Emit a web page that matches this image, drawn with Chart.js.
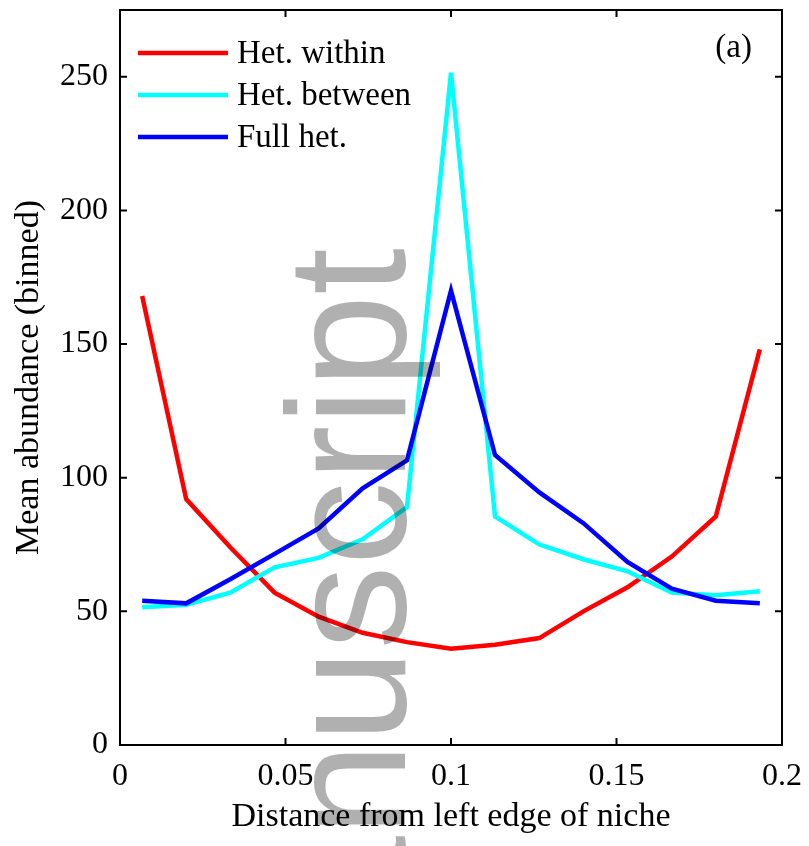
<!DOCTYPE html>
<html>
<head>
<meta charset="utf-8">
<script src="https://cdn.jsdelivr.net/npm/chart.js@4.4.1/dist/chart.umd.min.js"></script>
<style>
html, body { margin: 0; padding: 0; background: #fff; }
#wrap { width: 809px; height: 846px; }
</style>
</head>
<body>
<div id="wrap"><canvas id="chart" width="809" height="846"></canvas></div>
<script>
// bin centres along the niche
const binCentres = [0.0067, 0.02, 0.0333, 0.0467, 0.06, 0.0733, 0.0867, 0.1, 0.1133, 0.1267, 0.14, 0.1533, 0.1667, 0.18, 0.1933];
const hetWithin = [168, 92, 74, 57, 48, 42, 38.5, 36, 37.5, 40, 50, 59, 70.5, 85.5, 148];
const hetBetween = [51.5, 52.5, 57, 66.5, 70, 77, 89, 251.5, 85.5, 75, 69.5, 65, 57, 56, 57.5];
const fullHet = [54, 53, 62, 71.5, 81, 96, 106.5, 170, 108.5, 94.5, 83, 68.5, 58.5, 54, 53];
const xTicks = [0, 0.05, 0.1, 0.15, 0.2];
const yTicks = [0, 50, 100, 150, 200, 250];
const panelLabel = '(a)';
const watermark = 'manuscript';

const serif = "'Liberation Serif', 'Times New Roman', serif";

function toPoints(ys) {
    return ys.map((y, i) => ({ x: binCentres[i], y: y }));
}

// box + inward ticks on all four sides, like the matlab figure
const framePlugin = {
    id: 'frame',
    afterDatasetsDraw(chart) {
        const ctx = chart.ctx;
        const a = chart.chartArea;
        const xs = chart.scales.x, ys = chart.scales.y;
        const len = 7;
        ctx.save();
        ctx.strokeStyle = '#000';
        ctx.lineWidth = 2;
        ctx.beginPath();
        xs.ticks.forEach(t => {
            const px = xs.getPixelForValue(t.value);
            ctx.moveTo(px, a.bottom); ctx.lineTo(px, a.bottom - len);
            ctx.moveTo(px, a.top); ctx.lineTo(px, a.top + len);
        });
        ys.ticks.forEach(t => {
            const py = ys.getPixelForValue(t.value);
            ctx.moveTo(a.left, py); ctx.lineTo(a.left + len, py);
            ctx.moveTo(a.right, py); ctx.lineTo(a.right - len, py);
        });
        ctx.stroke();
        ctx.strokeRect(a.left, a.top, a.right - a.left, a.bottom - a.top);

        // legend in the top-left corner
        ctx.font = '33px ' + serif;
        ctx.textBaseline = 'middle';
        ctx.textAlign = 'left';
        chart.data.datasets.forEach((ds, i) => {
            const y = a.top + 43 + i * 42;
            ctx.strokeStyle = ds.borderColor;
            ctx.lineWidth = 4.5;
            ctx.beginPath();
            ctx.moveTo(a.left + 18, y);
            ctx.lineTo(a.left + 108, y);
            ctx.stroke();
            ctx.fillStyle = '#000';
            ctx.fillText(ds.label, a.left + 117, y + 1);
        });

        ctx.textAlign = 'right';
        ctx.fillText(panelLabel, a.right - 30, a.top + 38);
        ctx.restore();
    },
    afterDraw(chart) {
        // grey watermark drawn on top of everything
        const ctx = chart.ctx;
        ctx.save();
        ctx.translate(405, 248);
        ctx.rotate(-Math.PI / 2);
        ctx.font = "168px 'Liberation Sans', Arial, sans-serif";
        ctx.textAlign = 'right';
        ctx.textBaseline = 'alphabetic';
        ctx.fillStyle = 'rgba(0, 0, 0, 0.31)';
        ctx.fillText(watermark, 0, 0);
        ctx.restore();
    }
};

new Chart(document.getElementById('chart'), {
    type: 'line',
    data: {
        datasets: [
            { label: 'Het. within', data: toPoints(hetWithin), borderColor: '#ff0000', borderWidth: 4.5, order: 2 },
            { label: 'Het. between', data: toPoints(hetBetween), borderColor: '#00ffff', borderWidth: 4.5, order: 1 },
            { label: 'Full het.', data: toPoints(fullHet), borderColor: '#0000ff', borderWidth: 4.5, order: 0 }
        ]
    },
    options: {
        responsive: false,
        animation: false,
        devicePixelRatio: 1,
        layout: { padding: { left: 0, top: 10, right: 27, bottom: 0 } },
        elements: {
            line: { tension: 0, fill: false, borderJoinStyle: 'miter' },
            point: { radius: 0, hoverRadius: 0 }
        },
        plugins: {
            legend: { display: false },
            tooltip: { enabled: false }
        },
        scales: {
            x: {
                type: 'linear',
                min: 0,
                max: 0.2,
                afterBuildTicks: s => { s.ticks = xTicks.map(v => ({ value: v })); },
                afterFit: s => { s.height = 101; s.paddingLeft = 0; s.paddingRight = 0; },
                grid: { display: false, drawTicks: false },
                border: { display: false },
                ticks: {
                    padding: 12,
                    color: '#000',
                    font: { family: serif, size: 32 },
                    maxRotation: 0,
                    callback: v => String(+v.toFixed(2))
                },
                title: {
                    display: true,
                    text: 'Distance from left edge of niche',
                    color: '#000',
                    font: { family: serif, size: 34 },
                    padding: { top: 12, bottom: 9 }
                }
            },
            y: {
                type: 'linear',
                min: 0,
                max: 275,
                afterBuildTicks: s => { s.ticks = yTicks.map(v => ({ value: v })); },
                afterFit: s => { s.width = 120; s.paddingTop = 0; s.paddingBottom = 0; },
                grid: { display: false, drawTicks: false },
                border: { display: false },
                ticks: {
                    padding: 12,
                    color: '#000',
                    font: { family: serif, size: 32 },
                    callback: v => String(v)
                },
                title: {
                    display: true,
                    text: 'Mean abundance (binned)',
                    color: '#000',
                    font: { family: serif, size: 34 },
                    padding: { top: 9, bottom: 0 }
                }
            }
        }
    },
    plugins: [framePlugin]
});
</script>
</body>
</html>
